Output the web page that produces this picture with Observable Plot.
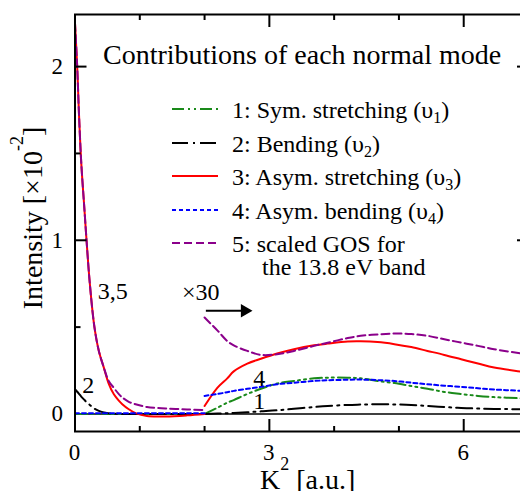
<!DOCTYPE html>
<html><head><meta charset="utf-8">
<script src="https://cdn.jsdelivr.net/npm/d3@7"></script>
<script src="https://cdn.jsdelivr.net/npm/@observablehq/plot@0.6"></script>
<style>
html,body{margin:0;padding:0;overflow:hidden;background:#fff;}
#chart{width:520px;height:491px;overflow:hidden;position:relative;font-family:'Liberation Serif', serif;color:#000;}
#chart svg{max-width:none !important;}
.lbl{position:absolute;white-space:nowrap;line-height:1;}
.sup{position:relative;font-size:18px;top:-19px;}
.sub{position:relative;font-size:16px;top:5px;}
</style></head><body><div id="chart"></div>
<script>
// ---- data ----
const k2Low = [0, 0.034, 0.059, 0.096, 0.147, 0.178, 0.229, 0.30, 0.368, 0.445, 0.52, 0.60, 0.68, 0.73, 0.83, 0.935, 1.11, 1.4, 1.73, 2.0];
const symStretchLow  = [0,0,0,0,0,0,0,0,0,0,0,0,0,0,0,0,0,0,0,0];
const bendingLow     = [0.142, 0.128, 0.117, 0.1, 0.08, 0.068, 0.052, 0.03, 0.018, 0.008, 0.004, 0.002, 0.001, 0, 0, 0, 0, 0, 0, 0];
const asymStretchLow = [2.25, 2.0, 1.75, 1.45, 1.17, 1.0, 0.75, 0.5, 0.363, 0.267, 0.175, 0.113, 0.075, 0.056, 0.027, 0.005, -0.012, -0.014, -0.008, 0.0];
const asymBendLow    = [0.004,0.004,0.004,0.004,0.004,0.004,0.004,0.004,0.004,0.004,0.004,0.004,0.004,0.004,0.004,0.004,0.004,0.004,0.004,0.004];
const gosLow         = [2.25, 2.0, 1.75, 1.45, 1.17, 1.0, 0.75, 0.5, 0.363, 0.267, 0.19, 0.15, 0.113, 0.095, 0.07, 0.056, 0.04, 0.032, 0.026, 0.022];

// scaled x30 part
const k2High = [2.0, 2.2, 2.35, 2.45, 2.66, 2.87, 3.12, 3.38, 3.69, 3.9, 4.21, 4.41, 4.67, 4.93, 5.19, 5.44, 5.70, 5.96, 6.22, 6.47, 6.89, 7.0];
const symStretchHigh  = [0.0, 0.036, 0.065, 0.08, 0.115, 0.145, 0.175, 0.19, 0.205, 0.209, 0.209, 0.205, 0.19, 0.178, 0.161, 0.145, 0.127, 0.115, 0.104, 0.097, 0.09, 0.088];
const bendingHigh     = [0.0, 0.002, 0.004, 0.006, 0.01, 0.015, 0.021, 0.03, 0.04, 0.046, 0.052, 0.054, 0.056, 0.055, 0.052, 0.046, 0.04, 0.035, 0.031, 0.029, 0.027, 0.026];
const asymStretchHigh = [0.046, 0.152, 0.205, 0.245, 0.29, 0.318, 0.348, 0.373, 0.395, 0.405, 0.417, 0.418, 0.414, 0.402, 0.385, 0.363, 0.34, 0.315, 0.29, 0.267, 0.244, 0.238];
const asymBendHigh    = [0.104, 0.115, 0.125, 0.133, 0.145, 0.156, 0.171, 0.18, 0.19, 0.194, 0.197, 0.198, 0.195, 0.19, 0.18, 0.171, 0.163, 0.156, 0.148, 0.141, 0.133, 0.131];
const gosHigh         = [0.555, 0.48, 0.42, 0.395, 0.363, 0.34, 0.344, 0.363, 0.392, 0.41, 0.437, 0.45, 0.458, 0.463, 0.46, 0.45, 0.43, 0.411, 0.392, 0.373, 0.348, 0.342];

const seriesNames  = ["1: Sym. stretching", "2: Bending", "3: Asym. stretching", "4: Asym. bending", "5: scaled GOS for"];
const seriesSub    = ["1", "2", "3", "4", ""];
const seriesColors = ["#1a8a1a", "#000000", "#ff0000", "#0000ff", "#8b008b"];
const seriesDash   = ["12,4,2,4,2,4", "16,5,2,5", null, "4,3", "8,4"];
const lowValues  = [symStretchLow, bendingLow, asymStretchLow, asymBendLow, gosLow];
const highValues = [symStretchHigh, bendingHigh, asymStretchHigh, asymBendHigh, gosHigh];

const xMajor = [0, 3, 6], xMinor = [1, 2, 4, 5];
const yMajor = [0, 1, 2], yMinor = [0.5, 1.5];

const annotations = [
  {x: 0.36, y: 0.66, text: "3,5"},
  {x: 0.12, y: 0.12, text: "2"},
  {x: 1.66, y: 0.65, text: "×30"},
  {x: 2.76, y: 0.16, text: "4"},
  {x: 2.76, y: 0.023, text: "1"}
];
const arrowSeg = [{x1: 2.02, x2: 2.62, y: 0.594}];

// ---- build rows ----
const rows = [];
seriesNames.forEach((name, i) => {
  k2Low.forEach((k, j) => rows.push({k, v: lowValues[i][j], s: i, seg: i + "-low"}));
  k2High.forEach((k, j) => rows.push({k, v: highValues[i][j], s: i, seg: i + "-high"}));
});

const curveMarks = seriesNames.map((name, i) =>
  Plot.line(rows.filter(d => d.s === i), {
    x: "k", y: "v", z: "seg", stroke: seriesColors[i], strokeWidth: 2,
    strokeDasharray: seriesDash[i] || undefined, curve: "catmull-rom"
  })
);

const tk = {fill: "none", label: null, strokeWidth: 2};
const plot = Plot.plot({
  width: 528, height: 491,
  marginLeft: 74.5, marginRight: 0, marginTop: 14, marginBottom: 60,
  style: {background: "white", overflow: "visible", maxWidth: "none"},
  x: {domain: [0, 7]},
  y: {domain: [-0.101, 2.3]},
  marks: [
    Plot.ruleY([0], {strokeWidth: 1.5}),
    ...curveMarks,
    Plot.axisX([3, 6], {anchor: "bottom", tickSize: 12, dy: -12, ...tk}),
    Plot.axisX(xMinor, {anchor: "bottom", tickSize: 5, dy: -5, ...tk}),
    Plot.axisX([3, 6], {anchor: "top", tickSize: 12, dy: 12, ...tk}),
    Plot.axisX(xMinor, {anchor: "top", tickSize: 5, dy: 5, ...tk}),
    Plot.axisY([1, 2], {anchor: "left", tickSize: 12, dx: 12, ...tk}),
    Plot.axisY(yMinor, {anchor: "left", tickSize: 6, dx: 6, ...tk}),
    Plot.axisY([1, 2], {anchor: "right", tickSize: 12, dx: -12, ...tk}),
    Plot.axisY(yMinor, {anchor: "right", tickSize: 6, dx: -6, ...tk}),
    Plot.frame({strokeWidth: 2}),
    Plot.link(arrowSeg, {x1: "x1", x2: "x2", y1: "y", y2: "y", strokeWidth: 2}),
    Plot.dot(arrowSeg, {x: "x2", y: "y", symbol: "triangle", rotate: 90, r: 5, fill: "black", stroke: null})
  ]
});
const chart = document.getElementById("chart");
chart.appendChild(plot);

// ---- text (HTML, positioned with the plot's own scales) ----
const xs = plot.scale("x"), ys = plot.scale("y");
const ASC = 0.8375; // baseline offset for line-height:1 in Liberation Serif
function label(html, x, baseline, size, anchor = "start") {
  const d = document.createElement("div");
  d.className = "lbl";
  d.style.fontSize = size + "px";
  d.style.left = x + "px";
  d.style.top = (baseline - ASC * size) + "px";
  if (anchor === "middle") d.style.transform = "translateX(-50%)";
  if (anchor === "end") d.style.transform = "translateX(-100%)";
  d.innerHTML = html;
  chart.appendChild(d);
  return d;
}
// tick labels
xMajor.forEach(v => label(String(v), xs.apply(v), 460, 23, "middle"));
yMajor.forEach(v => label(String(v), 63, ys.apply(v) + 8, 23, "end"));
// annotations
annotations.forEach(a => label(a.text, xs.apply(a.x), ys.apply(a.y), 24));
// title
label("Contributions of each normal mode", 103, 64, 28);
// legend
const legendY = [109, 143, 176, 210, 243];
const lsvg = d3.select(plot).append("g");
seriesNames.forEach((name, i) => {
  const y = legendY[i];
  lsvg.append("line").attr("x1", 172).attr("x2", 218).attr("y1", y).attr("y2", y)
    .attr("stroke", seriesColors[i]).attr("stroke-width", 2)
    .attr("stroke-dasharray", seriesDash[i]);
  const sub = seriesSub[i] ? ` (υ<span class="sub">${seriesSub[i]}</span>)` : "";
  label(name + sub, 232, y + 9, 24);
});
label("the 13.8 eV band", 262, 275, 24);
// axis titles
const yl = label('Intensity [×10<span class="sup">-2</span>]', 42, 218, 28);
yl.style.top = "218px";
yl.style.transformOrigin = "0 0";
yl.style.transform = `rotate(-90deg) translate(-50%, -${ASC * 28}px)`;
label('K<span class="sup">2</span> [a.u.]', 260, 489, 28);
</script></body></html>
